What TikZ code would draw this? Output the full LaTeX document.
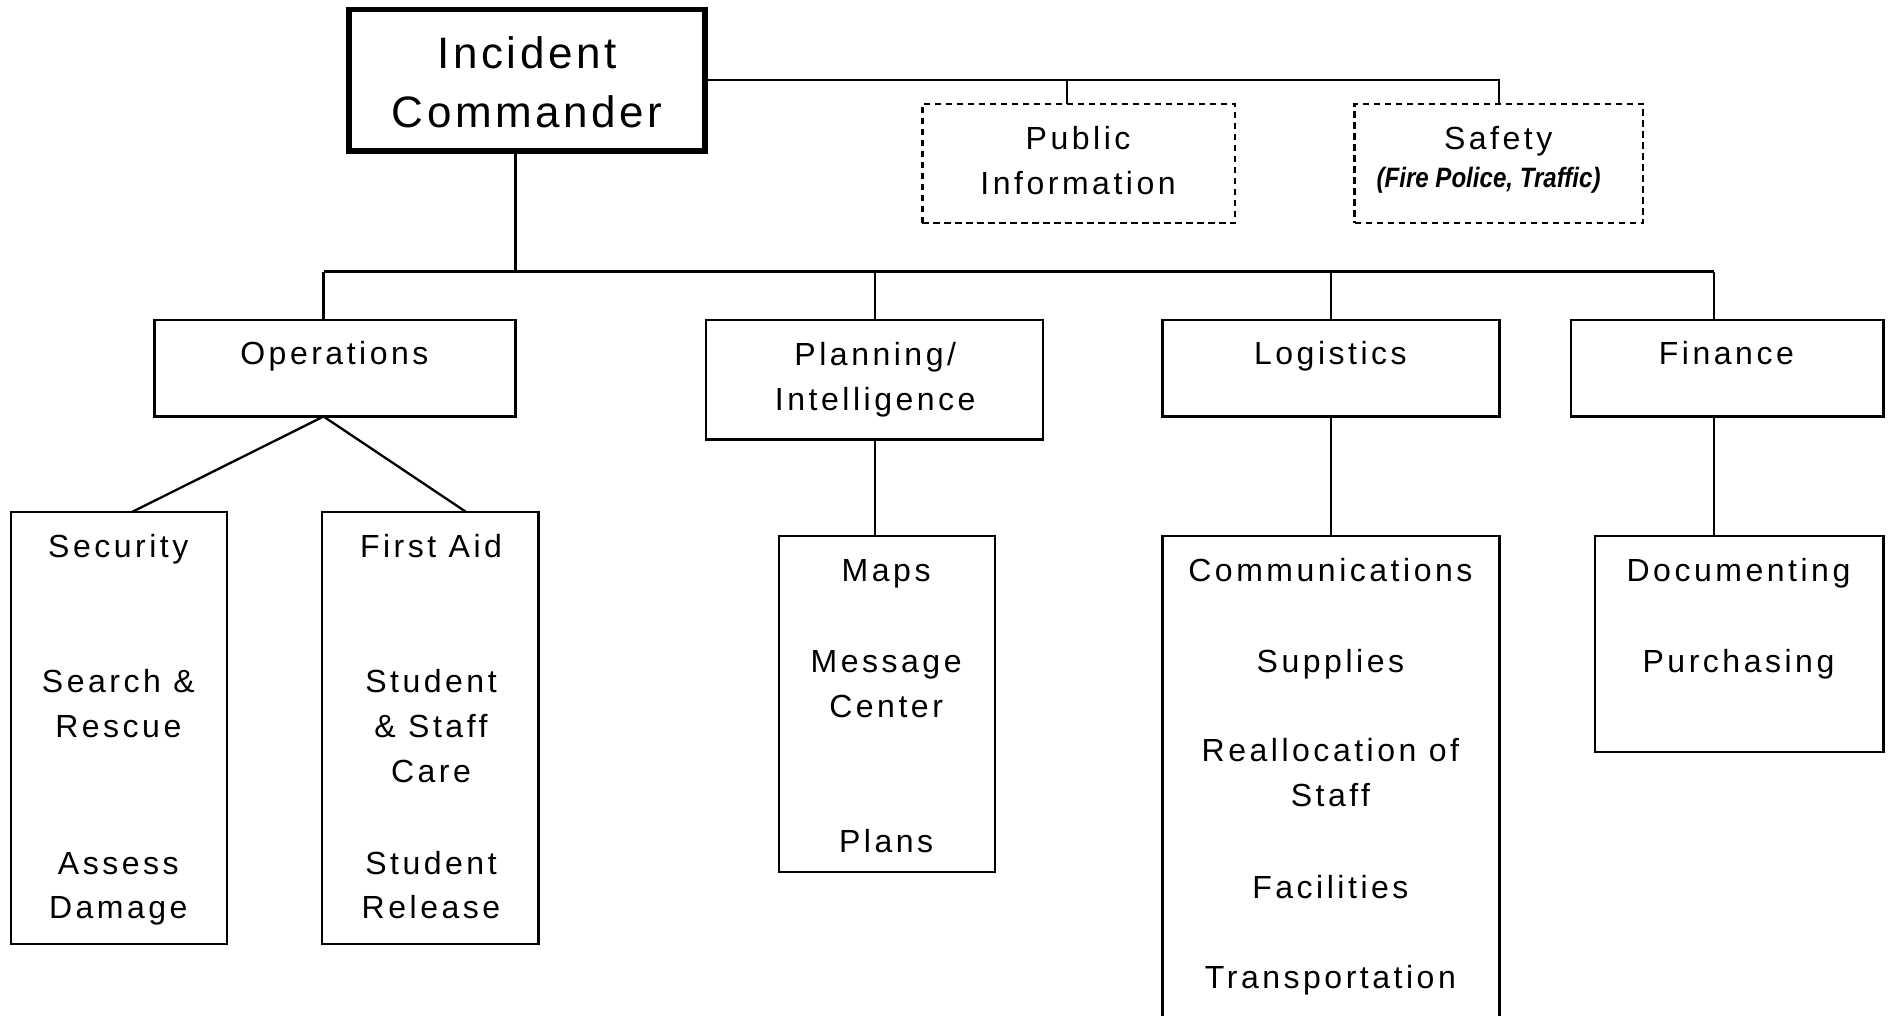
\documentclass[tikz,border=0pt]{standalone}
\usepackage{fontspec}
\setmainfont{Liberation Sans}
\newfontfamily\bodyfont[LetterSpace=11]{Liberation Sans}
\newfontfamily\icfont[LetterSpace=8]{Liberation Sans}
\newfontfamily\subfont[FakeStretch=0.86]{Liberation Sans}
\usetikzlibrary{fit}
\tikzset{
  box/.style={draw, line width=2.3pt, inner sep=0pt, outer sep=0pt},
  dbox/.style={box, dash pattern=on 6.5pt off 4.5pt},
  icbox/.style={box, line width=5.5pt},
  conn/.style={draw, line width=2.3pt},
  txt/.style={inner sep=0pt, anchor=base, font=\bodyfont\fontsize{32}{38}\selectfont},
  ictxt/.style={txt, font=\icfont\fontsize{44}{52}\selectfont},
  subtxt/.style={txt, font=\subfont\bfseries\itshape\fontsize{28}{32}\selectfont},
}
\newcommand\txtat[5][]{\node[txt,#1] (#2) at (#3,#4) {#5};}
\begin{document}
\begin{tikzpicture}[x=1.2073pt, y=-1.2073pt]
\clip (0,0) rectangle (1568,841);
\fill[white] (0,0) rectangle (1568,841);

% boxes
\node[icbox, fit={(289,8) (584,125)}] (ic) {};
\node[dbox, fit={(764,86) (1023,185)}] (pub) {};
\node[dbox, fit={(1122,86) (1361,185)}] (saf) {};
\node[box, fit={(128,265) (427,345)}] (ops) {};
\node[box, fit={(585,265) (864,364)}] (plan) {};
\node[box, fit={(963,265) (1242,345)}] (log) {};
\node[box, fit={(1301,265) (1560,345)}] (fin) {};
\node[box, fit={(9,424) (188,782)}] (sec) {};
\node[box, fit={(267,424) (446,782)}] (fa) {};
\node[box, fit={(645,444) (824,722)}] (maps) {};
\node[box, fit={(963,444) (1242,870)}] (comm) {};
\node[box, fit={(1321,444) (1560,623)}] (doc) {};

% connectors
\coordinate (busL) at (268,225);
\coordinate (busR) at (1420,225);
\draw[conn] (ic.east) -| (saf.north);
\draw[conn] ([xshift=-11.5pt]pub.north) |- (ic.east);
\draw[conn] ([xshift=-11.5pt]ic.south) |- (busL);
\draw[conn] (busL) -- (busR);
\draw[conn] (busL) -- (busL |- ops.north);
\draw[conn] (plan.north) -- (plan.north |- busL);
\draw[conn] (log.north) -- (log.north |- busL);
\draw[conn] (busR) -- (busR |- fin.north);
\coordinate (opsB) at (busL |- ops.south);
\draw[conn] ([xshift=13.3pt]sec.north) -- (opsB) -- ([xshift=35.6pt]fa.north);
\draw[conn] (plan.south) -- (plan.south |- maps.north);
\draw[conn] (log.south) -- (log.south |- comm.north);
\draw[conn] (busR |- fin.south) -- (busR |- doc.north);

% texts
\txtat[ictxt]{ic1}{436.5}{57}{Incident}
\txtat[ictxt]{ic2}{436.5}{106}{Commander}
\txtat{pub1}{893}{124}{Public}
\txtat{pub2}{893}{161}{Information}
\txtat{saf1}{1241}{124}{Safety}
\txtat[subtxt]{saf2}{1233}{155}{(Fire Police, Traffic)}
\txtat{ops1}{277}{302}{Operations}
\txtat{plan1}{725}{303}{Planning/}
\txtat{plan2}{725}{340}{Intelligence}
\txtat{log1}{1102}{302}{Logistics}
\txtat{fin1}{1430}{302}{Finance}
\txtat{sec1}{98}{462}{Security}
\txtat{sec2}{98}{574}{Search \&}
\txtat{sec3}{98}{611}{Rescue}
\txtat{sec4}{98}{724}{Assess}
\txtat{sec5}{98}{761}{Damage}
\txtat{fa1}{357}{462}{First Aid}
\txtat{fa2}{357}{574}{Student}
\txtat{fa3}{357}{611}{\& Staff}
\txtat{fa4}{357}{648}{Care}
\txtat{fa5}{357}{724}{Student}
\txtat{fa6}{357}{761}{Release}
\txtat{maps1}{734}{482}{Maps}
\txtat{maps2}{734}{557}{Message}
\txtat{maps3}{734}{594}{Center}
\txtat{maps4}{734}{706}{Plans}
\txtat{comm1}{1102}{482}{Communications}
\txtat{comm2}{1102}{557}{Supplies}
\txtat{comm3}{1102}{631}{Reallocation of}
\txtat{comm4}{1102}{668}{Staff}
\txtat{comm5}{1102}{744}{Facilities}
\txtat{comm6}{1102}{819}{Transportation}
\txtat{doc1}{1440}{482}{Documenting}
\txtat{doc2}{1440}{557}{Purchasing}
\end{tikzpicture}
\end{document}
